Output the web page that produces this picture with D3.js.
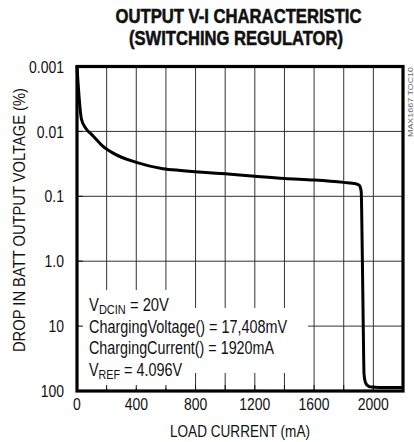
<!DOCTYPE html>
<html>
<head>
<meta charset="utf-8">
<script src="https://cdn.jsdelivr.net/npm/d3@7"></script>
<style>
  html, body { margin: 0; padding: 0; background: #fff; }
  svg { display: block; }
  text { font-family: "Liberation Sans", Arial, sans-serif; fill: #111; }
</style>
</head>
<body>
<div id="chart"></div>
<script>
// ---- data ----
const titleLines = ["OUTPUT V-I CHARACTERISTIC", "(SWITCHING REGULATOR)"];
const xLabel = "LOAD CURRENT (mA)";
const yLabel = "DROP IN BATT OUTPUT VOLTAGE (%)";
const sideNote = "MAX1667 TOC10";
const xTickValues = [0, 400, 800, 1200, 1600, 2000];
const xGridValues = [200, 400, 600, 800, 1000, 1200, 1400, 1600, 1800, 2000];
const yTickValues = [0.001, 0.01, 0.1, 1, 10, 100];
const yTickLabels = ["0.001", "0.01", "0.1", "1.0", "10", "100"];
const loadCurrent = [0, 30, 60, 100, 170, 250, 400, 580, 700, 870, 1000, 1200, 1400, 1600, 1800, 1880, 1905, 1918, 1925, 1932, 1937, 1945, 1960, 1985, 2040, 2190];
const voltageDrop = [0.001, 0.0065, 0.009, 0.0112, 0.0165, 0.022, 0.030, 0.0375, 0.040, 0.043, 0.045, 0.049, 0.053, 0.056, 0.061, 0.064, 0.068, 0.085, 0.7, 11, 55, 72, 82, 87, 88, 88];

// ---- layout ----
const W = 414, H = 442;
const plot = { left: 77, right: 403, top: 66.5, bottom: 391 };
const NARROW = 0.82;

const svg = d3.select("#chart").append("svg").attr("width", W).attr("height", H);

function condense(sel, factor) {
  sel.each(function () {
    const w = this.getComputedTextLength();
    d3.select(this).attr("textLength", w * factor).attr("lengthAdjust", "spacingAndGlyphs");
  });
}
function fitTo(sel, width) {
  sel.attr("textLength", width).attr("lengthAdjust", "spacingAndGlyphs");
}

const x = d3.scaleLinear().domain([0, 2200]).range([plot.left, plot.right]);
const y = d3.scaleLog().domain([0.001, 100]).range([plot.top, plot.bottom]);

// title
const t1 = svg.append("text").attr("x", 238.5).attr("y", 22.5).attr("text-anchor", "middle")
  .style("font-weight", "bold").style("font-size", "21px")
  .style("stroke", "#111").style("stroke-width", 0.6).text(titleLines[0]);
fitTo(t1, 246);
const t2 = svg.append("text").attr("x", 236).attr("y", 44.5).attr("text-anchor", "middle")
  .style("font-weight", "bold").style("font-size", "21px")
  .style("stroke", "#111").style("stroke-width", 0.6).text(titleLines[1]);
fitTo(t2, 214);

// grid
const grid = svg.append("g").attr("stroke", "#333").attr("stroke-width", 1);
grid.selectAll("line.v").data(xGridValues).join("line").attr("class", "v")
  .attr("x1", d => x(d)).attr("x2", d => x(d)).attr("y1", plot.top).attr("y2", plot.bottom);
grid.selectAll("line.h").data(yTickValues.slice(1, -1)).join("line").attr("class", "h")
  .attr("x1", plot.left).attr("x2", plot.right).attr("y1", d => y(d)).attr("y2", d => y(d));

// white masks behind annotation
const mask = svg.append("g").attr("fill", "#fff");
mask.append("rect").attr("x", 79).attr("y", 290).attr("width", 106).attr("height", 22);
mask.append("rect").attr("x", 79).attr("y", 308).attr("width", 229).attr("height", 65);
mask.append("rect").attr("x", 79).attr("y", 360).attr("width", 113).attr("height", 28);

// inner ticks
const ticks = svg.append("g").attr("stroke", "#111").attr("stroke-width", 1);
ticks.selectAll("line.bt").data(xGridValues).join("line").attr("class", "bt")
  .attr("x1", d => x(d)).attr("x2", d => x(d)).attr("y1", plot.bottom).attr("y2", plot.bottom - 6);
ticks.selectAll("line.lt").data(yTickValues.slice(1, -1)).join("line").attr("class", "lt")
  .attr("x1", plot.left).attr("x2", plot.left + 6).attr("y1", d => y(d)).attr("y2", d => y(d));

// annotation
const ann = svg.append("g").style("font-size", "17.5px");
const a1 = ann.append("text").attr("x", 89).attr("y", 311);
a1.append("tspan").text("V");
a1.append("tspan").attr("dy", 3).style("font-size", "13px").text("DCIN");
a1.append("tspan").attr("dy", -3).text(" = 20V");
fitTo(a1, 80);
fitTo(ann.append("text").attr("x", 89).attr("y", 332.5).text("ChargingVoltage() = 17,408mV"), 198);
fitTo(ann.append("text").attr("x", 89).attr("y", 354).text("ChargingCurrent() = 1920mA"), 185);
const a4 = ann.append("text").attr("x", 89).attr("y", 376);
a4.append("tspan").text("V");
a4.append("tspan").attr("dy", 3).style("font-size", "13px").text("REF");
a4.append("tspan").attr("dy", -3).text(" = 4.096V");
fitTo(a4, 93);

// curve
const line = d3.line().x((d, i) => x(loadCurrent[i])).y(d => y(d)).curve(d3.curveMonotoneX);
svg.append("path").datum(voltageDrop).attr("d", line)
  .attr("fill", "none").attr("stroke", "#000").attr("stroke-width", 3)
  .attr("stroke-linejoin", "round").attr("stroke-linecap", "round");

// frame
svg.append("rect").attr("x", plot.left).attr("y", plot.top)
  .attr("width", plot.right - plot.left).attr("height", plot.bottom - plot.top)
  .attr("fill", "none").attr("stroke", "#000").attr("stroke-width", 3.2);

// tick labels
const yl = svg.append("g").style("font-size", "17px").attr("text-anchor", "end")
  .selectAll("text").data(yTickValues).join("text")
  .attr("x", 64).attr("y", d => y(d)).attr("dy", "0.36em")
  .text((d, i) => yTickLabels[i]);
condense(yl, NARROW);
const xl = svg.append("g").style("font-size", "17px").attr("text-anchor", "middle")
  .selectAll("text").data(xTickValues).join("text")
  .attr("x", d => x(d)).attr("y", 410)
  .text(d => d);
condense(xl, NARROW);

// axis labels
fitTo(svg.append("text").attr("x", 240).attr("y", 437).attr("text-anchor", "middle")
  .style("font-size", "17px").text(xLabel), 140);
fitTo(svg.append("text").attr("transform", "translate(25,220) rotate(-90)").attr("text-anchor", "middle")
  .style("font-size", "17px").text(yLabel), 264);
fitTo(svg.append("text").attr("transform", "translate(413,102) rotate(-90)").attr("text-anchor", "middle")
  .style("font-size", "7.5px").style("fill", "#666").text(sideNote), 70);
</script>
</body>
</html>
